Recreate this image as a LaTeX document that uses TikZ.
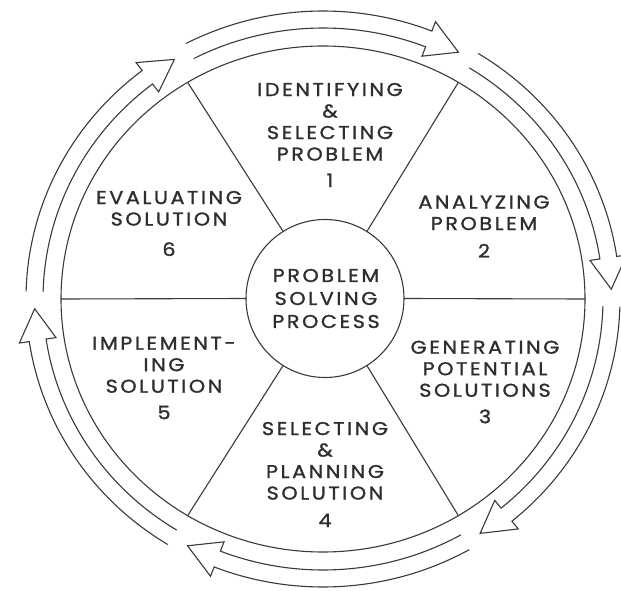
\documentclass[tikz,border=0pt]{standalone}
\usepackage{fontspec}
\newfontfamily\lbl{Poppins}[LetterSpace=14,FakeStretch=1.12,FakeBold=1.3]
\usetikzlibrary{shapes.geometric,calc}
\definecolor{ink}{HTML}{3A3A3A}
\definecolor{txt}{HTML}{2E2E2E}
\newcommand{\bandarrow}[2]{%
  \pgfmathsetmacro\arrback{#2+6.5}%
  \draw[bandline] ($(ring.center)+(#1:297pt and 288pt)$)
      arc[start angle=#1, end angle=\arrback, x radius=297pt, y radius=288pt]
    -- ($(ring.center)+(\arrback:307pt and 298pt)$)
    -- ($(ring.center)+(#2:288.5pt and 279.5pt)$)
    -- ($(ring.center)+(\arrback:270pt and 261pt)$)
    -- ($(ring.center)+(\arrback:280pt and 271pt)$)
      arc[start angle=\arrback, end angle=#1, x radius=280pt, y radius=271pt];%
}
\begin{document}
\begin{tikzpicture}[x=1pt,y=1pt,
  bandline/.style={draw=ink, line width=1.1pt, line join=miter},
  spoke/.style={draw=ink, line width=1.1pt},
  lab/.style={text=txt, align=center, inner sep=0pt, outer sep=0pt,
    font=\lbl\fontsize{18.5}{21.5}\selectfont},
  corelab/.style={lab, font=\lbl\fontsize{18.5}{23}\selectfont}]
\fill[white] (0,0) rectangle (621,590);
\useasboundingbox (0,0) rectangle (621,590);
\node[ellipse, draw=ink, line width=1.1pt, minimum width=524pt, minimum height=506pt, inner sep=0pt, outer sep=0pt] (ring) at (323,291) {};
\node[circle, draw=ink, line width=1.1pt, minimum size=158pt, inner sep=0pt, outer sep=0pt] (core) at (325,291.5) {};
\foreach \a in {0,58,122,180,-122,-58}
  \draw[spoke] (core.\a) -- (ring.\a);
\bandarrow{117.5}{62}
\bandarrow{58.5}{2}
\bandarrow{-1.5}{-57}
\bandarrow{-60.5}{-118}
\bandarrow{-121.5}{-178}
\bandarrow{178.5}{121}
\node[lab] (s1) at (330,455) {IDENTIFYING\\\&\\SELECTING\\PROBLEM\\[5pt]1};
\node[lab] (s2) at (484,363.5) {ANALYZING\\PROBLEM\\[6pt]2};
\node[lab] (s3) at (485,208) {GENERATING\\POTENTIAL\\SOLUTIONS\\[5pt]3};
\node[lab] (s4) at (325,115.5) {SELECTING\\\&\\PLANNING\\SOLUTION\\[6pt]4};
\node[lab] (s5) at (164,212) {IMPLEMENT-\\ING\\SOLUTION\\[5pt]5};
\node[lab] (s6) at (169,366.5) {EVALUATING\\SOLUTION\\[9pt]6};
\node[corelab] (ct) at (326,291.5) {PROBLEM\\SOLVING\\PROCESS};
\end{tikzpicture}
\end{document}
